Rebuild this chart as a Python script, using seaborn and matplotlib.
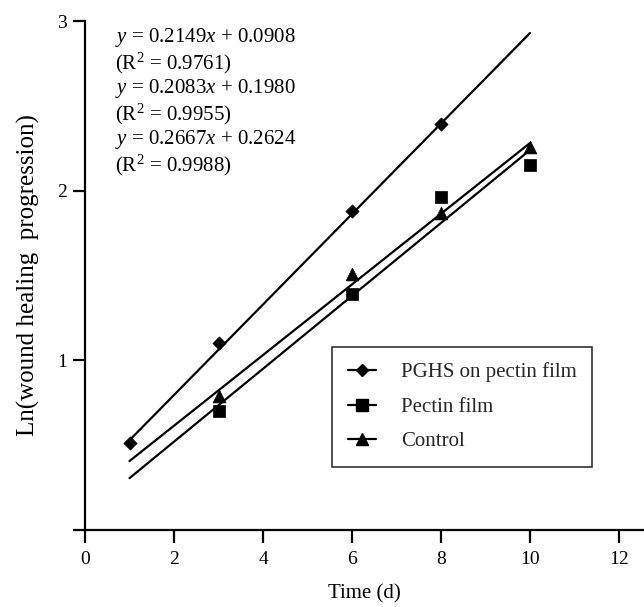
import numpy as np
import pandas as pd
import matplotlib
matplotlib.use("Agg")
import matplotlib.pyplot as plt
from matplotlib.lines import Line2D
import seaborn as sns

# Measured ln(wound healing progression) per treatment
groups = ["PGHS on pectin film", "Pectin film", "Control"]
pghs_days = [1, 3, 6, 8]
pghs_vals = [0.51, 1.10, 1.88, 2.39]
pectin_days = [3, 6, 8, 10]
pectin_vals = [0.70, 1.39, 1.96, 2.15]
control_days = [3, 6, 8, 10]
control_vals = [0.79, 1.51, 1.87, 2.26]

# Linear fits (slope, intercept, R^2) as reported
fit_slopes = [0.2667, 0.2149, 0.2083]
fit_intercepts = [0.2624, 0.0908, 0.1980]
fit_r2 = [0.9988, 0.9761, 0.9955]
fit_range = [1, 10]

# Order in which the equations are listed
eq_order = [1, 2, 0]

x_ticks = [0, 2, 4, 6, 8, 10, 12]
y_ticks = [0, 1, 2, 3]
y_tick_labels = ["", "1", "2", "3"]

sns.set_theme(style="ticks")
plt.rcParams["font.family"] = ["Liberation Serif", "DejaVu Serif"]
plt.rcParams["mathtext.fontset"] = "custom"
plt.rcParams["mathtext.rm"] = "Liberation Serif"
plt.rcParams["mathtext.it"] = "Liberation Serif:italic"

points = pd.concat([
    pd.DataFrame({"day": pghs_days, "value": pghs_vals, "group": groups[0]}),
    pd.DataFrame({"day": pectin_days, "value": pectin_vals, "group": groups[1]}),
    pd.DataFrame({"day": control_days, "value": control_vals, "group": groups[2]}),
], ignore_index=True)

fits = pd.concat([
    pd.DataFrame({"day": fit_range,
                  "value": [s * d + b for d in fit_range],
                  "group": g})
    for g, s, b in zip(groups, fit_slopes, fit_intercepts)
], ignore_index=True)

markers = {groups[0]: "D", groups[1]: "s", groups[2]: "^"}
sizes = {groups[0]: 45, groups[1]: 80, groups[2]: 85}

fig = plt.figure(figsize=(6.44, 6.07), dpi=100)
ax = fig.add_axes([85 / 644, 77 / 607, 559 / 644, 509 / 607])

for g in groups:
    sns.lineplot(data=fits[fits["group"] == g], x="day", y="value",
                 color="black", linewidth=1.6, ax=ax, legend=False)
for g in groups:
    sns.scatterplot(data=points[points["group"] == g], x="day", y="value",
                    marker=markers[g], s=sizes[g], color="black",
                    edgecolor="black", linewidth=0.5, ax=ax, legend=False,
                    zorder=3)

ax.set_xlim(0, 12.56)
ax.set_ylim(0, 3)
ax.set_xticks(x_ticks)
ax.set_yticks(y_ticks)
ax.set_yticklabels(y_tick_labels)
ax.tick_params(axis="both", direction="out", length=9, width=1.6,
               labelsize=14, color="black", labelcolor="black")
ax.tick_params(axis="x", pad=6)
ax.tick_params(axis="y", pad=4)
for side in ["top", "right"]:
    ax.spines[side].set_visible(False)
for side in ["left", "bottom"]:
    ax.spines[side].set_linewidth(1.6)
    ax.spines[side].set_color("black")

ax.set_xlabel("Time (d)", fontsize=15, labelpad=12, color="black")
ax.set_ylabel("Ln(wound healing  progression)", fontsize=18, labelpad=12,
              color="black")

# Fitted equations in the upper left
lines = []
for i in eq_order:
    lines.append(r"$y$ = %.4f$x$ + %.4f" % (fit_slopes[i], fit_intercepts[i]))
    lines.append(r"(R$^2$ = %.4f)" % fit_r2[i])
ax.text(0.054, 0.99, "\n".join(lines), transform=ax.transAxes,
        fontsize=15, va="top", ha="left", linespacing=1.08, color="black")

handles = [Line2D([0], [0], color="black", lw=1.6, marker=markers[g],
                  markersize={"D": 6.5, "s": 8.5, "^": 9}[markers[g]])
           for g in groups]
leg = ax.legend(handles, groups, loc="upper left",
                bbox_to_anchor=(0.442, 0.36), borderaxespad=0,
                fontsize=15, frameon=True, fancybox=False,
                handlelength=1.35, handletextpad=1.2, labelspacing=0.72,
                borderpad=0.75)
leg.get_frame().set_edgecolor("black")
leg.get_frame().set_linewidth(1.2)

fig.savefig("out.png", dpi=100)
